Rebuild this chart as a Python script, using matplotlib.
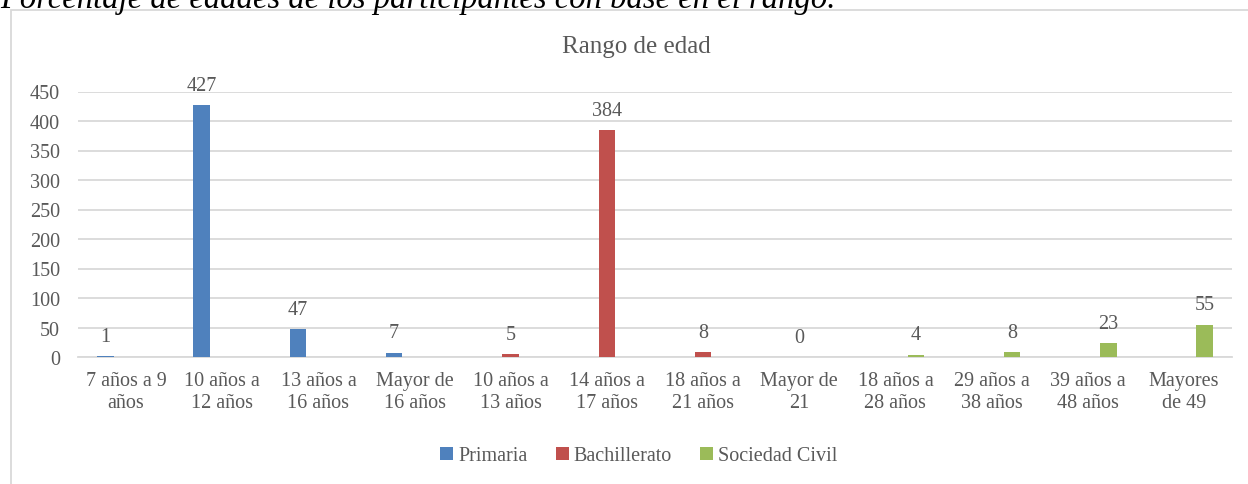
import matplotlib
matplotlib.use("Agg")
import matplotlib.pyplot as plt
import numpy as np
from matplotlib.patches import Rectangle

# Data
categories = [
    "7 años a 9\naños", "10 años a\n12 años", "13 años a\n16 años", "Mayor de\n16 años",
    "10 años a\n13 años", "14 años a\n17 años", "18 años a\n21 años", "Mayor de\n21",
    "18 años a\n28 años", "29 años a\n38 años", "39 años a\n48 años", "Mayores\nde 49",
]
nan = np.nan
primaria = [1, 427, 47, 7, nan, nan, nan, nan, nan, nan, nan, nan]
bachillerato = [nan, nan, nan, nan, 5, 384, 8, 0, nan, nan, nan, nan]
sociedad_civil = [nan, nan, nan, nan, nan, nan, nan, nan, 4, 8, 23, 55]
series_names = ["Primaria", "Bachillerato", "Sociedad Civil"]
y_ticks = [0, 50, 100, 150, 200, 250, 300, 350, 400, 450]

colors = ["#4f81bd", "#c0504d", "#9bbb59"]
text_color = "#595959"
grid_color = "#d9d9d9"
fs = 14.5

plt.rcParams["font.family"] = ["Liberation Serif", "DejaVu Serif"]

W, H = 1248, 485
fig = plt.figure(figsize=(W / 100, H / 100), dpi=100)

# chart frame (extends past right and bottom edges)
fig.patches.append(Rectangle((11 / W, -0.2), 2.0, 1.2 - 11 / H, transform=fig.transFigure,
                             fill=False, ec=grid_color, lw=1.3, zorder=0))

# caption above the chart, cut off by the top edge
fig.text(0.0, 1 - 8 / H, "Porcentaje de edades de los participantes con base en el rango.",
         fontsize=23.5, style="italic", color="black", va="baseline", ha="left")

ax = fig.add_axes([78 / W, 1 - 358 / H, (1232 - 78) / W, (358 - 92.5) / H])

x = np.arange(len(categories))
offsets = [-0.213, 0.0, 0.213]
width = 0.172
for vals, off, col, name in zip([primaria, bachillerato, sociedad_civil], offsets, colors, series_names):
    vals = np.array(vals, dtype=float)
    ax.bar(x + off, np.nan_to_num(vals), width, color=col, label=name, zorder=3)
    for xi, v in zip(x + off, vals):
        if not np.isnan(v):
            ax.annotate(f"{int(v)}", (xi, v), xytext=(0, 7.5), textcoords="offset points",
                        ha="center", va="bottom", fontsize=fs, color=text_color)

ax.set_xlim(-0.5, len(categories) - 0.5)
ax.set_ylim(0, 450)
ax.set_yticks(y_ticks)
ax.set_xticks(x)
ax.set_xticklabels(categories, linespacing=1.2)
ax.tick_params(axis="both", length=0, labelsize=fs, labelcolor=text_color)
ax.tick_params(axis="x", pad=10)
ax.tick_params(axis="y", pad=13)
ax.grid(axis="y", color=grid_color, lw=1.3, zorder=0)
for s in ["top", "right", "left"]:
    ax.spines[s].set_visible(False)
ax.spines["bottom"].set_color(grid_color)
ax.spines["bottom"].set_linewidth(1.3)

fig.text(636 / W, 1 - 53 / H, "Rango de edad", ha="center", va="baseline",
         fontsize=18, color=text_color)

fig.legend(loc="center", bbox_to_anchor=(639 / W, 1 - 457 / H), ncol=3, frameon=False,
           fontsize=fs, labelcolor=text_color, handlelength=0.65, handleheight=0.65,
           handletextpad=0.25, columnspacing=1.4)

fig.savefig("out.png", dpi=100)
